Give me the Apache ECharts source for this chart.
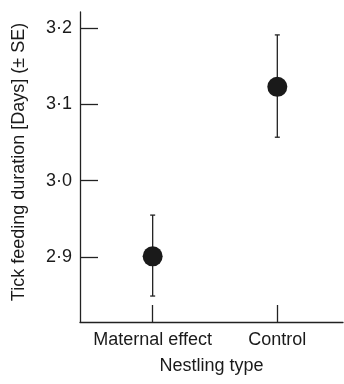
<!DOCTYPE html>
<html><head><meta charset="utf-8">
<script src="https://cdn.jsdelivr.net/npm/echarts@6/dist/echarts.min.js"></script>
<style>html,body{margin:0;padding:0;background:#fff}#c{width:344px;height:384px}</style>
</head><body><div id="c"></div>
<script>
var categories = ['Maternal effect', 'Control'];
var means = [2.901, 3.123];
var upper = [2.955, 3.191];
var lower = [2.849, 3.057];
var yTicks = [2.9, 3.0, 3.1, 3.2];
var yTickLabels = ['2·9', '3·0', '3·1', '3·2'];
var xName = 'Nestling type';
var yName = 'Tick feeding duration [Days] (± SE)';

var FONT = 'Liberation Sans';
var INK = '#222';
var chart = echarts.init(document.getElementById('c'), null, {renderer: 'canvas'});
var pts = means.map(function (m, i) { return [i, m]; });
var errs = means.map(function (m, i) { return [i, lower[i], upper[i]]; });
chart.setOption({
  animation: false,
  backgroundColor: '#fff',
  grid: {left: 80, top: 12, right: 1, bottom: 62, containLabel: false},
  xAxis: {
    type: 'value', min: -0.583, max: 1.527,
    splitLine: {show: false},
    axisLine: {show: true, onZero: false, lineStyle: {color: INK, width: 1.3}},
    axisTick: {show: true, inside: true, length: 17, customValues: [0, 1], lineStyle: {color: INK, width: 1.3}},
    axisLabel: {customValues: [0, 1], margin: 9, color: '#1a1a1a', fontFamily: FONT, fontSize: 18,
      formatter: function (v) { return categories[Math.round(v)]; }},
    name: xName, nameLocation: 'middle', nameGap: 35,
    nameTextStyle: {color: '#1a1a1a', fontFamily: FONT, fontSize: 18}
  },
  yAxis: {
    type: 'value', min: 2.815, max: 3.221,
    splitLine: {show: false},
    axisLine: {show: true, onZero: false, lineStyle: {color: INK, width: 1.3}},
    axisTick: {show: true, inside: true, length: 18, customValues: yTicks, lineStyle: {color: INK, width: 1.3}},
    axisLabel: {customValues: yTicks, margin: 8, color: '#1a1a1a', fontFamily: FONT, fontSize: 18,
      formatter: function (v) { var i = yTicks.findIndex(function (t) { return Math.abs(t - v) < 1e-6; }); return yTickLabels[i]; }},
    name: yName, nameLocation: 'middle', nameGap: 52,
    nameTextStyle: {color: '#1a1a1a', fontFamily: FONT, fontSize: 18, padding: [0, 0, 0, 10]}
  },
  series: [
    {
      type: 'custom',
      data: errs,
      renderItem: function (params, api) {
        var x = api.value(0);
        var lo = api.coord([x, api.value(1)]);
        var hi = api.coord([x, api.value(2)]);
        var w = 2.5;
        var st = {stroke: INK, lineWidth: 1.3};
        return {type: 'group', children: [
          {type: 'line', shape: {x1: lo[0], y1: lo[1], x2: hi[0], y2: hi[1]}, style: st},
          {type: 'line', shape: {x1: lo[0] - w, y1: lo[1], x2: lo[0] + w, y2: lo[1]}, style: st},
          {type: 'line', shape: {x1: hi[0] - w, y1: hi[1], x2: hi[0] + w, y2: hi[1]}, style: st}
        ]};
      },
      z: 2
    },
    {
      type: 'scatter', data: pts, symbol: 'circle', symbolSize: 20,
      itemStyle: {color: '#1a1a1a', opacity: 1}, z: 3
    }
  ]
});
</script></body></html>
